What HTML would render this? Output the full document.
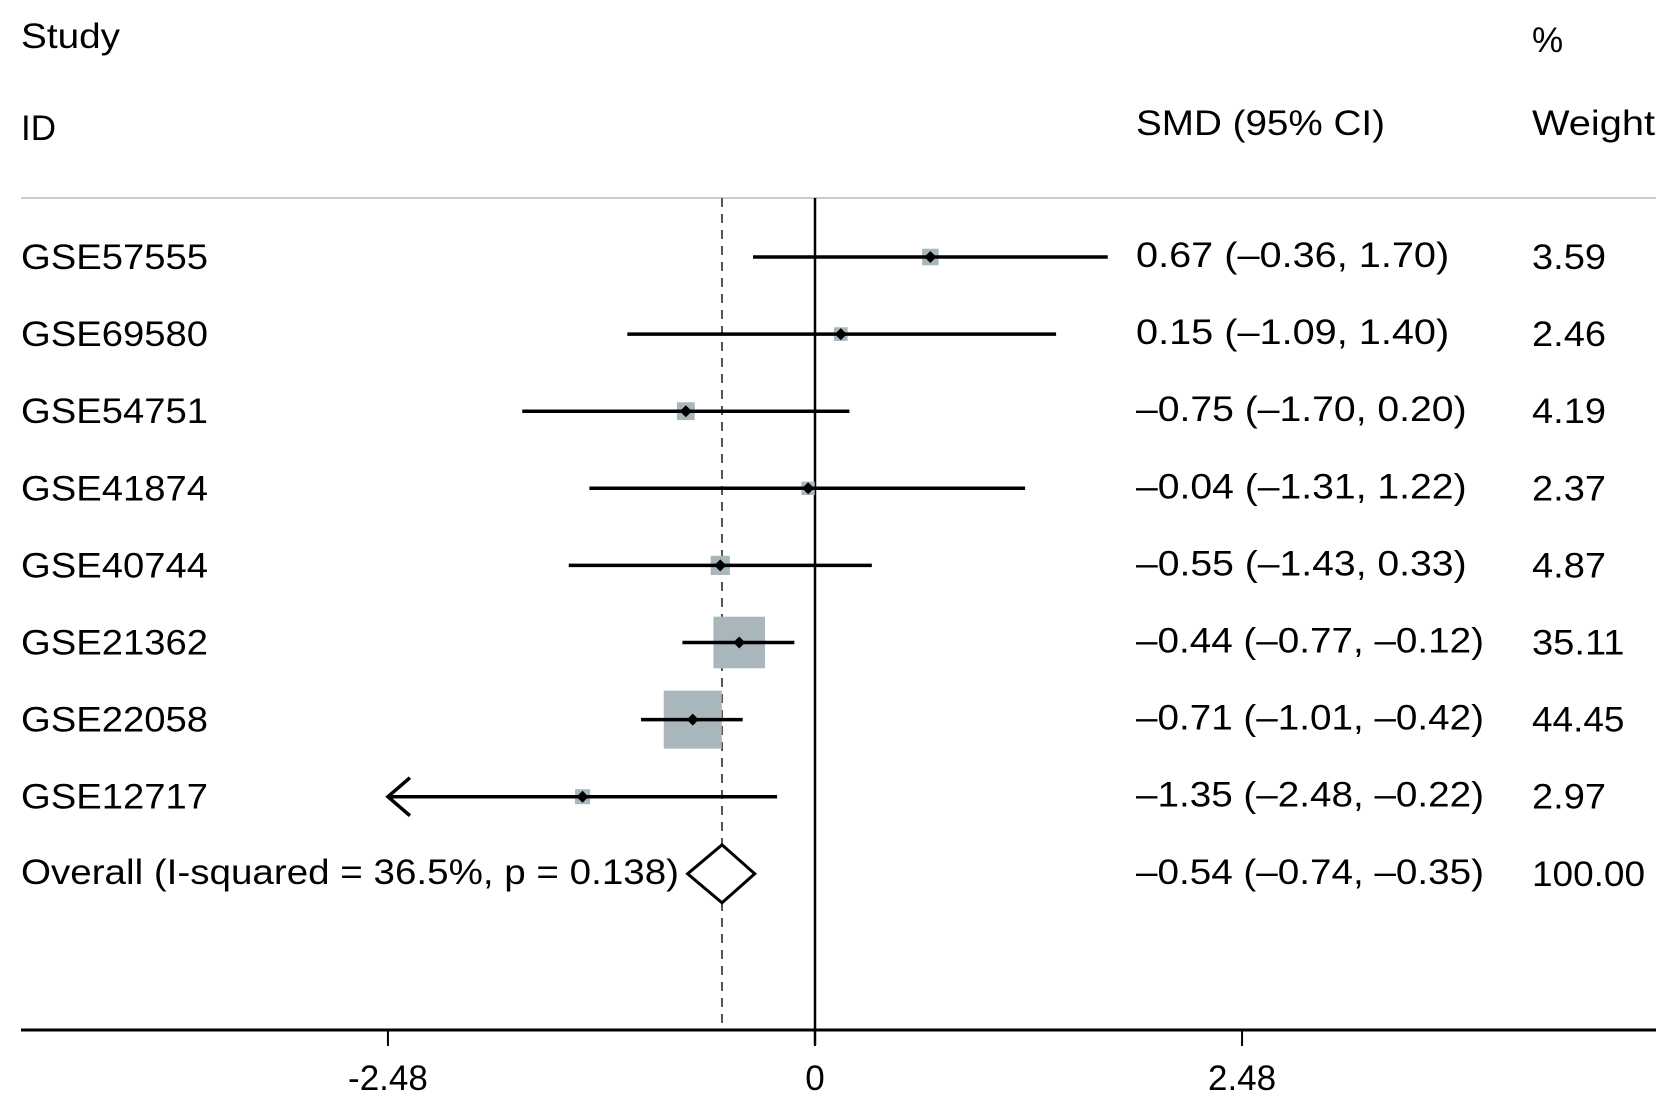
<!DOCTYPE html>
<html><head><meta charset="utf-8">
<style>
html,body{margin:0;padding:0;background:#fff;}
svg{display:block;font-family:"Liberation Sans",Arial,sans-serif;}
</style></head>
<body>
<svg id="chart" width="1677" height="1113" viewBox="0 0 1677 1113" xmlns="http://www.w3.org/2000/svg">
  <text x="21" y="48" font-size="35" textLength="99" lengthAdjust="spacingAndGlyphs">Study</text>
  <text x="21" y="140" font-size="35">ID</text>
  <text x="1532" y="52" font-size="35">%</text>
  <text x="1136" y="135" font-size="35" textLength="249" lengthAdjust="spacingAndGlyphs">SMD (95% CI)</text>
  <text x="1532" y="135" font-size="35" textLength="123" lengthAdjust="spacingAndGlyphs">Weight</text>
  <line x1="21" y1="198" x2="1656" y2="198" stroke="#ccc" stroke-width="2"/>
  <g id="plot"></g>
</svg>
<script>
const studies = ["GSE57555","GSE69580","GSE54751","GSE41874","GSE40744","GSE21362","GSE22058","GSE12717"];
const smd = [0.67, 0.15, -0.75, -0.04, -0.55, -0.44, -0.71, -1.35];
const lower = [-0.36, -1.09, -1.70, -1.31, -1.43, -0.77, -1.01, -2.48];
const upper = [1.70, 1.40, 0.20, 1.22, 0.33, -0.12, -0.42, -0.22];
const weights = [3.59, 2.46, 4.19, 2.37, 4.87, 35.11, 44.45, 2.97];
const overall = [-0.54, -0.74, -0.35];
const overallLabel = "Overall (I-squared = 36.5%, p = 0.138)";
const tickValues = [-2.48, 0, 2.48];
const tickLabels = ["-2.48", "0", "2.48"];

const NS = "http://www.w3.org/2000/svg";
const g = document.getElementById("plot");
const x = v => 815 + v * 172.2;
const rowY = i => 257 + i * 77.1;
const fmt = v => (v < 0 ? "\u2013" : "") + Math.abs(v).toFixed(2);
function mk(tag, attrs) { const e = document.createElementNS(NS, tag); for (const k in attrs) e.setAttribute(k, attrs[k]); g.appendChild(e); return e; }

let e;
e = mk("line", {x1: x(0), y1: 198, x2: x(0), y2: 1045, stroke: "#000", "stroke-width": 2.5});


e = mk("line", {x1: x(overall[0]), y1: 198, x2: x(overall[0]), y2: 1030, stroke: "#555", "stroke-width": 2, "stroke-dasharray": "9,7"});



const xmin = -2.48;
studies.forEach((s, i) => {
  const y = rowY(i);
  const side = 8.7 * Math.sqrt(weights[i]);
  e = mk("rect", {x: x(smd[i]) - side / 2, y: y - side / 2, width: side, height: side, fill: "#a9b6bb"});
  
  
  const lo = Math.max(lower[i], xmin);
  e = mk("line", {x1: x(lo), y1: y, x2: x(upper[i]), y2: y, stroke: "#000", "stroke-width": 3.5});
  
  
  if (lower[i] <= xmin) {
    e = mk("polyline", {points: `${x(lo) + 22},${y - 19} ${x(lo)},${y} ${x(lo) + 22},${y + 19}`, fill: "none", stroke: "#000", "stroke-width": 3.5});
    
    
  }
  const cx = x(smd[i]);
  e = mk("polygon", {points: `${cx - 6},${y} ${cx},${y - 6} ${cx + 6},${y} ${cx},${y + 6}`, fill: "#000"});
  
  
  e = mk("text", {x: 21, y: y + 12, "font-size": 35, textLength: 187, lengthAdjust: "spacingAndGlyphs"});
  e.textContent = s;
  
  
  const ci = `${fmt(smd[i])} (${fmt(lower[i])}, ${fmt(upper[i])})`;
  e = mk("text", {x: 1136, y: y + 10, "font-size": 35, textLength: ci.length * 17.4, lengthAdjust: "spacingAndGlyphs"});
  e.textContent = ci;
  
  
  const w = weights[i].toFixed(2);
  e = mk("text", {x: 1532, y: y + 12, "font-size": 35, textLength: w.length * 18.5, lengthAdjust: "spacingAndGlyphs"});
  e.textContent = w;
  
  
});

const oy = rowY(8);
e = mk("polygon", {points: `${x(overall[1])},${oy} ${x(overall[0])},${oy - 29} ${x(overall[2])},${oy} ${x(overall[0])},${oy + 29}`, fill: "#fff", stroke: "#000", "stroke-width": 3});


e = mk("text", {x: 21, y: oy + 10, "font-size": 35, textLength: 658, lengthAdjust: "spacingAndGlyphs"});
e.textContent = overallLabel;


const oci = `${fmt(overall[0])} (${fmt(overall[1])}, ${fmt(overall[2])})`;
e = mk("text", {x: 1136, y: oy + 10, "font-size": 35, textLength: oci.length * 17.4, lengthAdjust: "spacingAndGlyphs"});
e.textContent = oci;


e = mk("text", {x: 1532, y: oy + 12, "font-size": 35, textLength: 113, lengthAdjust: "spacingAndGlyphs"});
e.textContent = "100.00";



e = mk("line", {x1: 21, y1: 1030, x2: 1656, y2: 1030, stroke: "#000", "stroke-width": 3});


tickValues.forEach((v, i) => {
  e = mk("line", {x1: x(v), y1: 1030, x2: x(v), y2: 1046, stroke: "#000", "stroke-width": 2});
  
  
  e = mk("text", {x: x(v), y: 1090, "font-size": 35, "text-anchor": "middle"});
  e.textContent = tickLabels[i];
  
  
});
</script>
</body></html>
